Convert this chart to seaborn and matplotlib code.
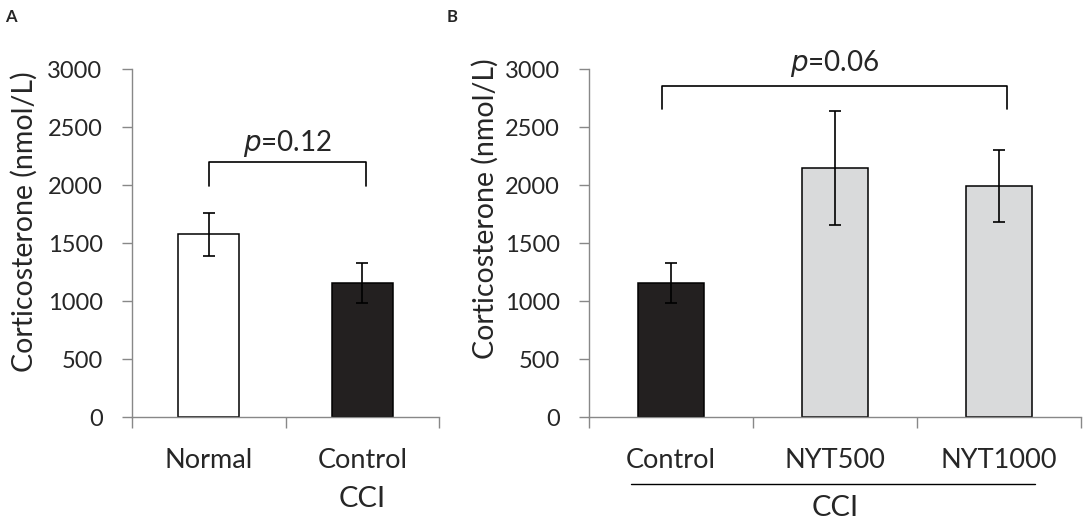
import numpy as np
import pandas as pd
import matplotlib
matplotlib.use("Agg")
import matplotlib.pyplot as plt
import seaborn as sns

# panel A
groups_a = ["Normal", "Control"]
means_a = [1576, 1156]
errs_a = [188, 170]
colors_a = ["#ffffff", "#231f20"]

# panel B
groups_b = ["Control", "NYT500", "NYT1000"]
means_b = [1156, 2146, 1993]
errs_b = [170, 490, 312]
colors_b = ["#231f20", "#d9dadb", "#d9dadb"]

p_a = "0.12"
p_b = "0.06"
yticks = [0, 500, 1000, 1500, 2000, 2500, 3000]

sns.set_style("white")
plt.rcParams["font.family"] = ["Lato", "DejaVu Sans"]

fig = plt.figure(figsize=(10.84, 5.25), dpi=100)
ax_a = fig.add_axes([0.1215, 0.2057, 0.2838, 0.6623])
ax_b = fig.add_axes([0.5431, 0.2057, 0.4539, 0.6623])


def panel(ax, groups, means, errs, colors, labelpad, label_y):
    df = pd.DataFrame({"group": groups, "value": means})
    sns.barplot(data=df, x="group", y="value", hue="group", palette=colors,
                width=0.4, edgecolor="black", linewidth=1.1, legend=False, ax=ax)
    ax.errorbar(range(len(groups)), means, yerr=errs, fmt="none", ecolor="black",
                elinewidth=1.2, capsize=4.2, capthick=1.2)
    ax.set_ylim(0, 3000)
    ax.set_xlim(-0.5, len(groups) - 0.5)
    ax.set_yticks(yticks)
    ax.tick_params(axis="y", labelsize=17, length=7, width=1, color="#888888",
                   direction="out", left=True, pad=14)
    ax.set_xticks(np.arange(-0.5, len(groups), 1.0))
    ax.set_xticklabels([])
    ax.set_xticks(range(len(groups)), minor=True)
    ax.set_xticklabels(groups, minor=True, fontsize=19.5)
    ax.tick_params(axis="x", which="major", length=8, width=1, color="#888888",
                   direction="out", bottom=True)
    ax.tick_params(axis="x", which="minor", length=0, pad=22)
    for s in ["top", "right"]:
        ax.spines[s].set_visible(False)
    for s in ["left", "bottom"]:
        ax.spines[s].set_color("#888888")
        ax.spines[s].set_linewidth(1)
    ax.set_xlabel("")
    ax.set_ylabel("Corticosterone (nmol/L)", fontsize=20.5, labelpad=labelpad,
                  y=label_y)


def bracket(ax, x0, x1, y, drop, p, ty):
    ax.plot([x0, x0, x1, x1], [y - drop, y, y, y - drop], color="black",
            lw=1.2, clip_on=False)
    ax.text((x0 + x1) / 2, ty, "$p$=" + p, ha="center", va="center",
            fontsize=20, clip_on=False)


panel(ax_a, groups_a, means_a, errs_a, colors_a, 7, 0.561)
panel(ax_b, groups_b, means_b, errs_b, colors_b, 4, 0.598)

bracket(ax_a, 0, 1.02, 2198, 202, p_a, 2364)
bracket(ax_b, -0.053, 2.05, 2859, 204, p_b, 3054)

# CCI labels
ax_a.text(1, -0.236, "CCI", transform=ax_a.get_xaxis_transform(), ha="center",
          va="center", fontsize=21)
ax_b.plot([-0.24, 2.22], [-0.193, -0.193], transform=ax_b.get_xaxis_transform(),
          color="black", lw=1, clip_on=False)
ax_b.text(1, -0.262, "CCI", transform=ax_b.get_xaxis_transform(), ha="center",
          va="center", fontsize=21)

fig.text(0.005, 0.968, "A", fontsize=12, fontweight="bold", va="center")
fig.text(0.412, 0.968, "B", fontsize=12, fontweight="bold", va="center")

fig.savefig("out.png", dpi=100)
